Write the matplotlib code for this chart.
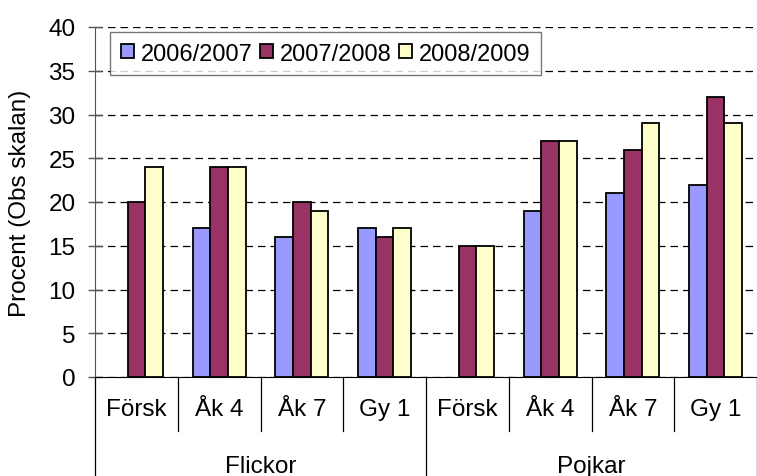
import numpy as np
import matplotlib
matplotlib.use("Agg")
import matplotlib.pyplot as plt
from matplotlib.transforms import blended_transform_factory

plt.rcParams['font.family'] = ['Liberation Sans', 'DejaVu Sans']

groups = ["Flickor", "Pojkar"]
categories = ["Försk", "Åk 4", "Åk 7", "Gy 1", "Försk", "Åk 4", "Åk 7", "Gy 1"]
series = ["2006/2007", "2007/2008", "2008/2009"]
v_2006 = [np.nan, 17, 16, 17, np.nan, 19, 21, 22]
v_2007 = [20, 24, 20, 16, 15, 27, 26, 32]
v_2008 = [24, 24, 19, 17, 15, 27, 29, 29]
colors = ["#9999FF", "#993366", "#FFFFCC"]

fig = plt.figure(figsize=(7.57, 4.77), dpi=100)
ax = fig.add_axes([95 / 757, 1 - 378 / 477, 662 / 757, 350 / 477])

x = np.arange(len(categories))
w = 0.214
for i, (vals, name) in enumerate(zip([v_2006, v_2007, v_2008], series)):
    ax.bar(x + (i - 1) * w, vals, w, color=colors[i], edgecolor="black",
           linewidth=1.3, label=name, zorder=3)

ax.set_xlim(-0.5, len(categories) - 0.5)
ax.set_ylim(0, 40)
ax.set_yticks(range(0, 41, 5))
ax.yaxis.grid(True, color="black", linestyle=(0, (6, 4)), linewidth=0.9)
ax.tick_params(axis="y", direction="inout", length=10, width=1, labelsize=17.5,
               pad=9, color="#555555")
ax.set_xticks([])
for s in ["top", "right"]:
    ax.spines[s].set_visible(False)
ax.spines["left"].set_color("#555555")
ax.spines["bottom"].set_color("black")
ax.set_ylabel("Procent (Obs skalan)", fontsize=17.5)
ax.yaxis.set_label_coords(-0.097, 0.5)

# two-level category axis
tr = blended_transform_factory(ax.transData, ax.transAxes)
for xi, lab in zip(x, categories):
    ax.text(xi, -0.092, lab, transform=tr, ha="center", va="center", fontsize=17.5)
for b in np.arange(-0.5, len(categories), 1.0):
    if b in (-0.5, 3.5, 7.5):
        ax.plot([b, b], [0, -0.29], transform=tr, color="black", lw=0.9, clip_on=False)
    else:
        ax.plot([b, b], [0, -0.154], transform=tr, color="black", lw=0.9, clip_on=False)
for gi, g in enumerate(groups):
    ax.text(gi * 4 + 1.5, -0.254, g, transform=tr, ha="center", va="center", fontsize=17.5)

leg = ax.legend(loc="upper left", bbox_to_anchor=(0.023, 0.986), ncol=3,
                fontsize=17, frameon=True, fancybox=False, borderpad=0.45,
                handlelength=0.55, handleheight=0.55, handletextpad=0.3,
                columnspacing=0.3, borderaxespad=0)
leg.get_frame().set_edgecolor("#555555")
leg.get_frame().set_linewidth(1.0)
leg.set_zorder(5)

fig.savefig("out.png", dpi=100)
